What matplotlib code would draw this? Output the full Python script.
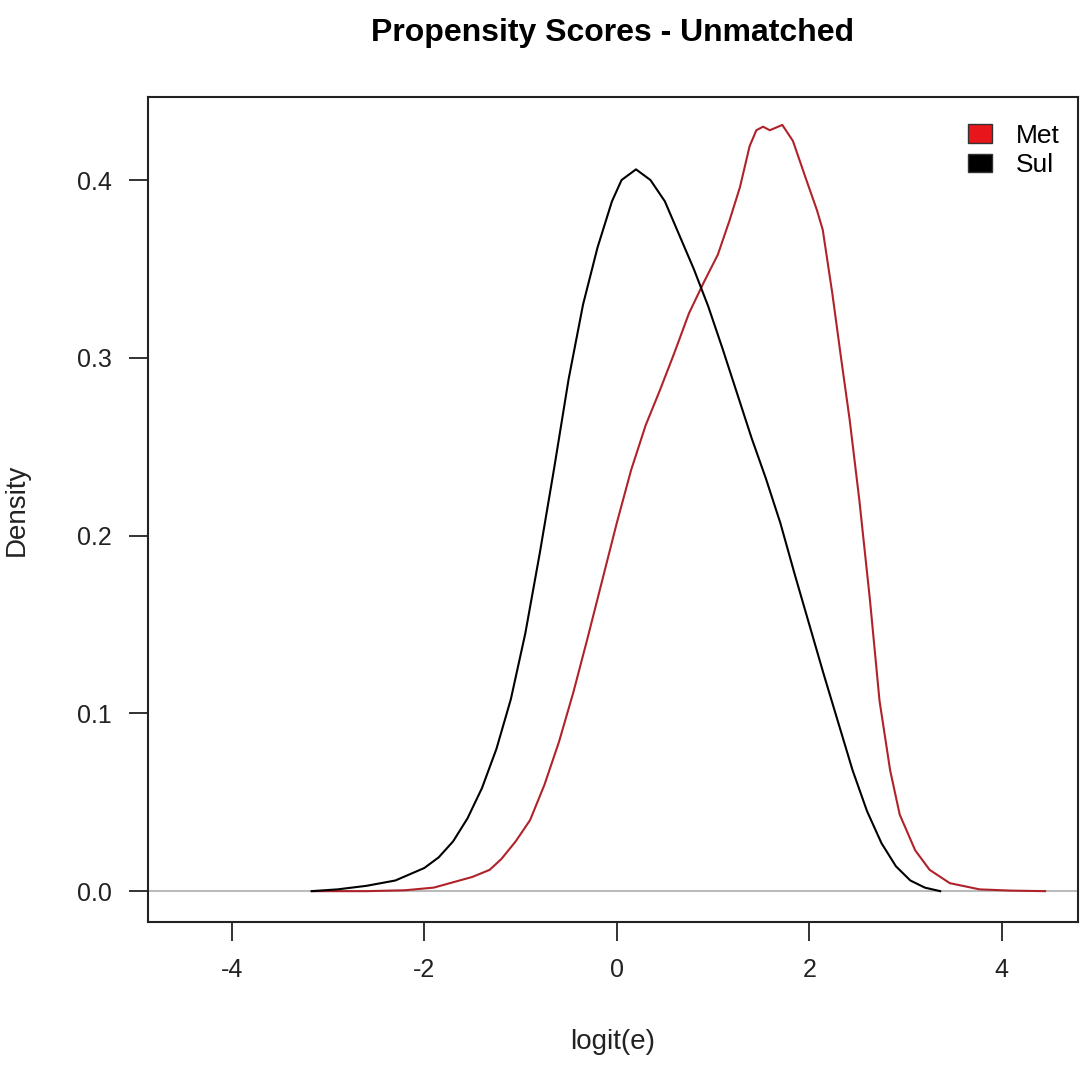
import numpy as np
import matplotlib
matplotlib.use("Agg")
import matplotlib.pyplot as plt
from matplotlib.patches import Patch

plt.rcParams['font.family'] = ['Liberation Sans', 'DejaVu Sans']
plt.rcParams['axes.unicode_minus'] = False

# density curves (logit(e), density)
sul_x = [-3.17, -2.9, -2.6, -2.3, -2.0, -1.85, -1.7, -1.55, -1.4, -1.25, -1.1, -0.95,
         -0.8, -0.65, -0.5, -0.35, -0.2, -0.05, 0.05, 0.2, 0.35, 0.5, 0.65, 0.8, 0.95,
         1.1, 1.25, 1.4, 1.55, 1.7, 1.85, 2.0, 2.15, 2.3, 2.45, 2.6, 2.75, 2.9, 3.05,
         3.2, 3.36]
sul_y = [0.0, 0.001, 0.003, 0.006, 0.013, 0.019, 0.028, 0.041, 0.058, 0.080, 0.108,
         0.145, 0.190, 0.238, 0.288, 0.330, 0.362, 0.388, 0.400, 0.406, 0.400, 0.388,
         0.369, 0.350, 0.329, 0.305, 0.280, 0.255, 0.232, 0.207, 0.178, 0.150, 0.122,
         0.095, 0.068, 0.045, 0.027, 0.014, 0.006, 0.002, 0.0]

met_x = [-3.16, -2.6, -2.2, -1.9, -1.7, -1.5, -1.32, -1.2, -1.05, -0.9, -0.75, -0.6,
         -0.45, -0.3, -0.15, 0.0, 0.15, 0.3, 0.45, 0.6, 0.75, 0.9, 1.05, 1.17, 1.28,
         1.38, 1.45, 1.52, 1.59, 1.72, 1.83, 1.90, 1.97, 2.08, 2.14, 2.24, 2.33, 2.42,
         2.52, 2.63, 2.73, 2.84, 2.94, 3.10, 3.25, 3.46, 3.77, 4.1, 4.45]
met_y = [0.0, 0.0, 0.0005, 0.002, 0.005, 0.008, 0.012, 0.018, 0.028, 0.040, 0.060,
         0.084, 0.112, 0.143, 0.175, 0.207, 0.237, 0.262, 0.282, 0.303, 0.325, 0.342,
         0.358, 0.377, 0.396, 0.419, 0.428, 0.430, 0.428, 0.431, 0.422, 0.411, 0.400,
         0.383, 0.372, 0.336, 0.300, 0.265, 0.220, 0.164, 0.107, 0.068, 0.043, 0.023,
         0.012, 0.0045, 0.001, 0.0003, 0.0]

groups = ['Met', 'Sul']
group_colors = ['#e8161b', 'black']

fig = plt.figure(figsize=(10.8, 10.66), dpi=100)
ax = fig.add_axes([0.137, 0.135, 0.861, 0.774])

ax.axhline(0, color='#bbbbbb', lw=1.5, zorder=1)
ax.plot(sul_x, sul_y, color='black', lw=1.5, zorder=3)
ax.plot(met_x, met_y, color='#b0222a', lw=1.5, zorder=2)

ax.set_xlim(-4.87, 4.79)
ax.set_ylim(-0.0174, 0.4467)
ax.set_xticks([-4, -2, 0, 2, 4])
ax.set_yticks([0.0, 0.1, 0.2, 0.3, 0.4])
ax.set_yticklabels(['0.0', '0.1', '0.2', '0.3', '0.4'])
ax.tick_params(labelsize=18, length=14, width=1.3, colors='#222222')
ax.tick_params(axis='x', pad=12)
ax.tick_params(axis='y', pad=12)
for s in ax.spines.values():
    s.set_linewidth(1.5)
    s.set_color('#222222')

ax.set_xlabel('logit(e)', fontsize=20, color='#222222')
ax.xaxis.set_label_coords(0.5, -0.13)
ax.set_ylabel('Density', fontsize=20, color='#222222')
ax.yaxis.set_label_coords(-0.127, 0.5)
ax.set_title('Propensity Scores - Unmatched', fontsize=23, fontweight='bold', pad=40)

handles = [Patch(facecolor=c, edgecolor='#333333') for c in group_colors]
ax.legend(handles, groups, loc='upper right', bbox_to_anchor=(1.0, 0.99),
          frameon=False, fontsize=19, handlelength=0.9, handleheight=0.68,
          handletextpad=0.9, labelspacing=0.2, borderaxespad=0.3)

fig.savefig('out.png', dpi=100)
